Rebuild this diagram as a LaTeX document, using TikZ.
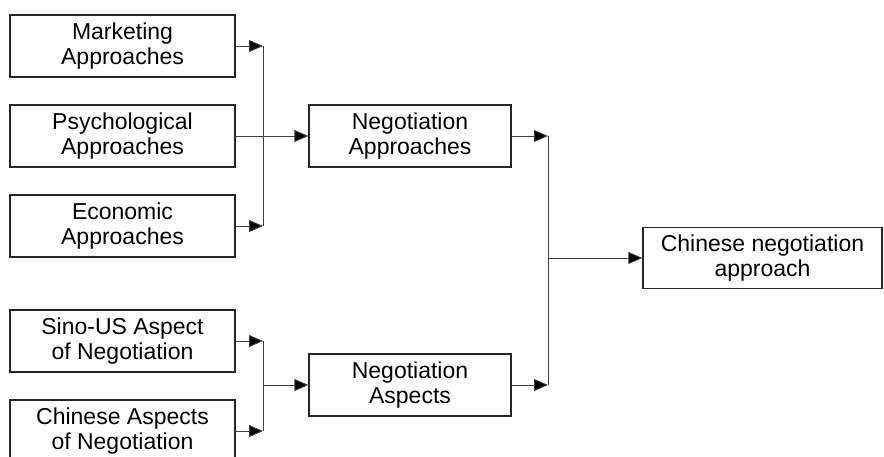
\documentclass[tikz,border=0pt]{standalone}
\usepackage{fontspec}
\setmainfont{Liberation Sans}
\usetikzlibrary{arrows.meta}

\begin{document}
\begin{tikzpicture}[x=1pt, y=-1pt,
  block/.style = {shape=rectangle, draw=black!85, line width=1.2pt,
    align=center, inner sep=0pt,
    font=\fontsize{23}{25}\selectfont},
  srcbox/.style = {block, minimum width=225pt, minimum height=62pt},
  midbox/.style = {block, minimum width=202pt, minimum height=62pt},
  link/.style = {line width=0.9pt, draw=black!75},
  arr/.style = {link, -{Triangle[length=14pt,width=12pt,fill=black]}}]
    \clip (0,0) rectangle (884,457);
    \useasboundingbox (0,0) rectangle (884,457);
    % bars
    \coordinate (lx) at (263,0);
    \coordinate (rx) at (548,0);
    % sources
    \node[srcbox] (mkt)  at (122.5,46)  {Marketing\\Approaches};
    \node[srcbox] (psy)  at (122.5,136) {Psychological\\Approaches};
    \node[srcbox] (eco)  at (122.5,226) {Economic\\Approaches};
    \node[srcbox] (sino) at (122.5,341) {Sino-US Aspect\\of Negotiation};
    \node[srcbox] (chn)  at (122.5,431) {Chinese Aspects\\of Negotiation};
    % middle
    \node[midbox] (nap) at (410,136) {Negotiation\\Approaches};
    \node[midbox] (nas) at (410,385) {Negotiation\\Aspects};
    % result
    \node[block, minimum width=239pt, minimum height=61pt] (cna) at (762.5,258)
      {Chinese negotiation\\approach};
    % approaches
    \draw[arr] (mkt.east) -- (mkt.east -| lx);
    \draw[arr] (eco.east) -- (eco.east -| lx);
    \draw[link] (mkt.east -| lx) -- (eco.east -| lx);
    \draw[arr] (psy.east) -- (nap.west);
    % aspects
    \draw[arr] (sino.east) -- (sino.east -| lx);
    \draw[arr] (chn.east) -- (chn.east -| lx);
    \draw[link] (sino.east -| lx) -- (chn.east -| lx);
    \draw[arr] (lx |- nas.west) -- (nas.west);
    % result
    \draw[arr] (nap.east) -- (nap.east -| rx);
    \draw[arr] (nas.east) -- (nas.east -| rx);
    \draw[link] (nap.east -| rx) -- (nas.east -| rx);
    \draw[arr] (rx |- cna.west) -- (cna.west);
\end{tikzpicture}
\end{document}
